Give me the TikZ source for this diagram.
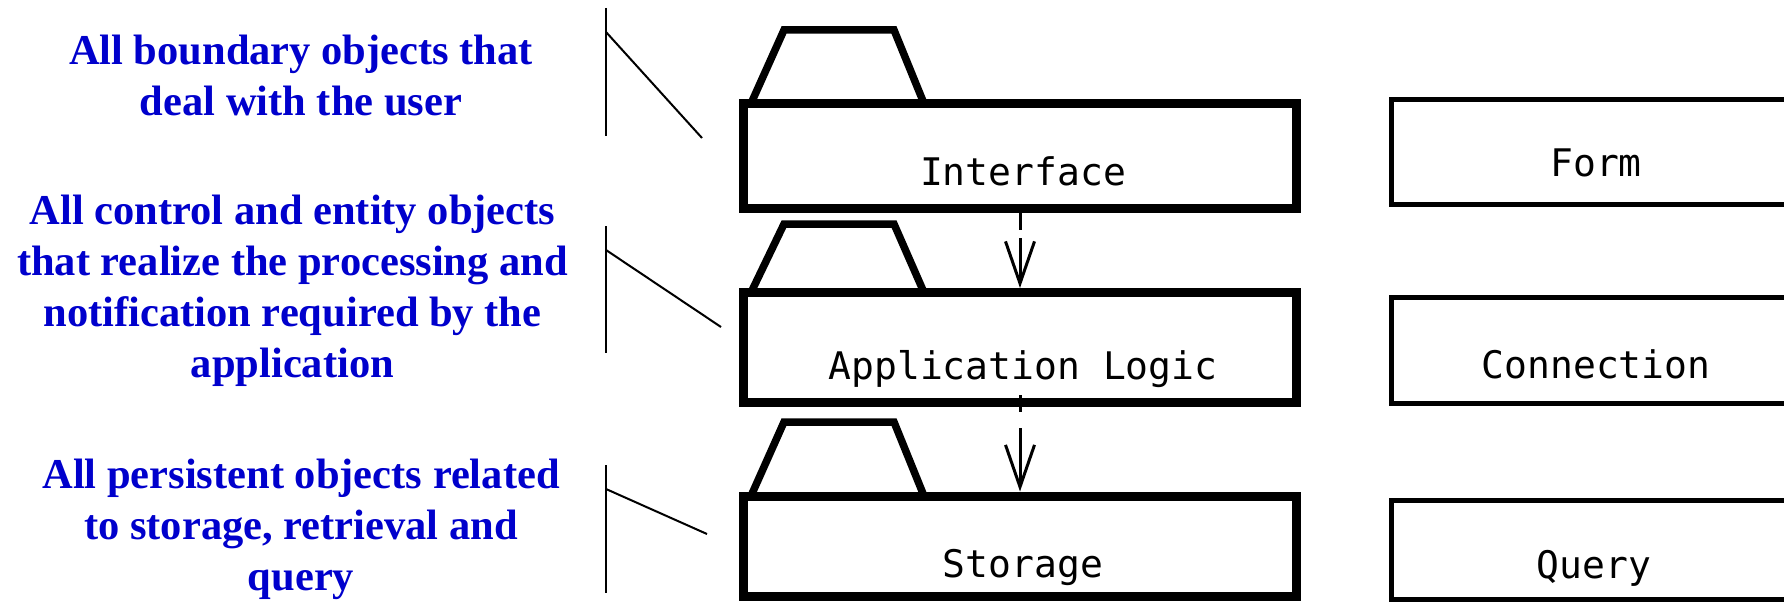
\documentclass[tikz,border=0pt]{standalone}
\usepackage{fontspec}
\usetikzlibrary{arrows.meta}
\newfontfamily\notefont{Liberation Serif}
\newfontfamily\boxfont{DejaVu Sans Mono}
\definecolor{noteblue}{RGB}{0,0,204}
\begin{document}
\begin{tikzpicture}[x=1pt,y=-1pt,
  note/.style={inner sep=0pt,align=center,text=noteblue,
    font=\notefont\bfseries\fontsize{42.5}{51}\selectfont,anchor=base},
  layer/.style={draw,line width=9pt,minimum width=553pt,inner sep=0pt},
  tab/.style={draw,line width=7.5pt},
  part/.style={draw,line width=5pt,minimum width=424pt,inner sep=0pt},
  boxtext/.style={inner sep=0pt,anchor=base,font=\boxfont\fontsize{38}{44}\selectfont},
  brace/.style={line width=2pt},
  dep/.style={line width=3pt,-{Straight Barb[length=42pt,width=29pt]}}]
\useasboundingbox (0,0) rectangle (1784,602);
\clip (0,0) rectangle (1784,602);

% notes (base anchor = baseline of the last line)
\node[note] (n1) at (301,115) {All boundary objects that\\deal with the user};
\node[note] (n2) at (292.5,377) {All control and entity objects\\that realize the processing and\\notification required by the\\application};
\node[note] (n3) at (301,590) {All persistent objects related\\to storage, retrieval and\\query};

% note brackets
\draw[brace] (606,8) -- (606,136);
\draw[brace] (606,32) -- (702,138);
\draw[brace] (606,226) -- (606,353);
\draw[brace] (606,250) -- (721,327);
\draw[brace] (606,465) -- (606,593);
\draw[brace] (606,489) -- (707,534);

% layer boxes
\node[layer,minimum height=105pt] (iface) at (1020,156) {};
\node[layer,minimum height=110pt] (app) at (1020,347.5) {};
\node[layer,minimum height=100pt] (stor) at (1020,546) {};
\node[boxtext] (ifaceT) at (1023,185) {Interface};
\node[boxtext] (appT) at (1023,379) {Application Logic};
\node[boxtext] (storT) at (1023,577) {Storage};

% package tabs
\draw[tab] (751,103.5) -- (784,30) -- (894,30) -- (924,103.5);
\draw[tab] (751,292.5) -- (784,224) -- (894,224) -- (924,292.5);
\draw[tab] (751,496) -- (784,422) -- (894,422) -- (924,496);

% dependencies
\draw[dep,dash pattern=on 25pt off 8pt on 300pt] ([yshift=8pt]iface.south) -- (app.north);
\draw[dep,dash pattern=on 17pt off 16pt on 300pt] ([yshift=12pt]app.south) -- (stor.north);

% right column
\node[part,minimum height=105.6pt] (form) at (1603,151.8) {};
\node[part,minimum height=105.4pt] (conn) at (1603,350.3) {};
\node[part,minimum height=98.5pt] (query) at (1603,549.8) {};
\node[boxtext] (formT) at (1596,176) {Form};
\node[boxtext] (connT) at (1596,378) {Connection};
\node[boxtext] (queryT) at (1594,578) {Query};
\end{tikzpicture}
\end{document}
